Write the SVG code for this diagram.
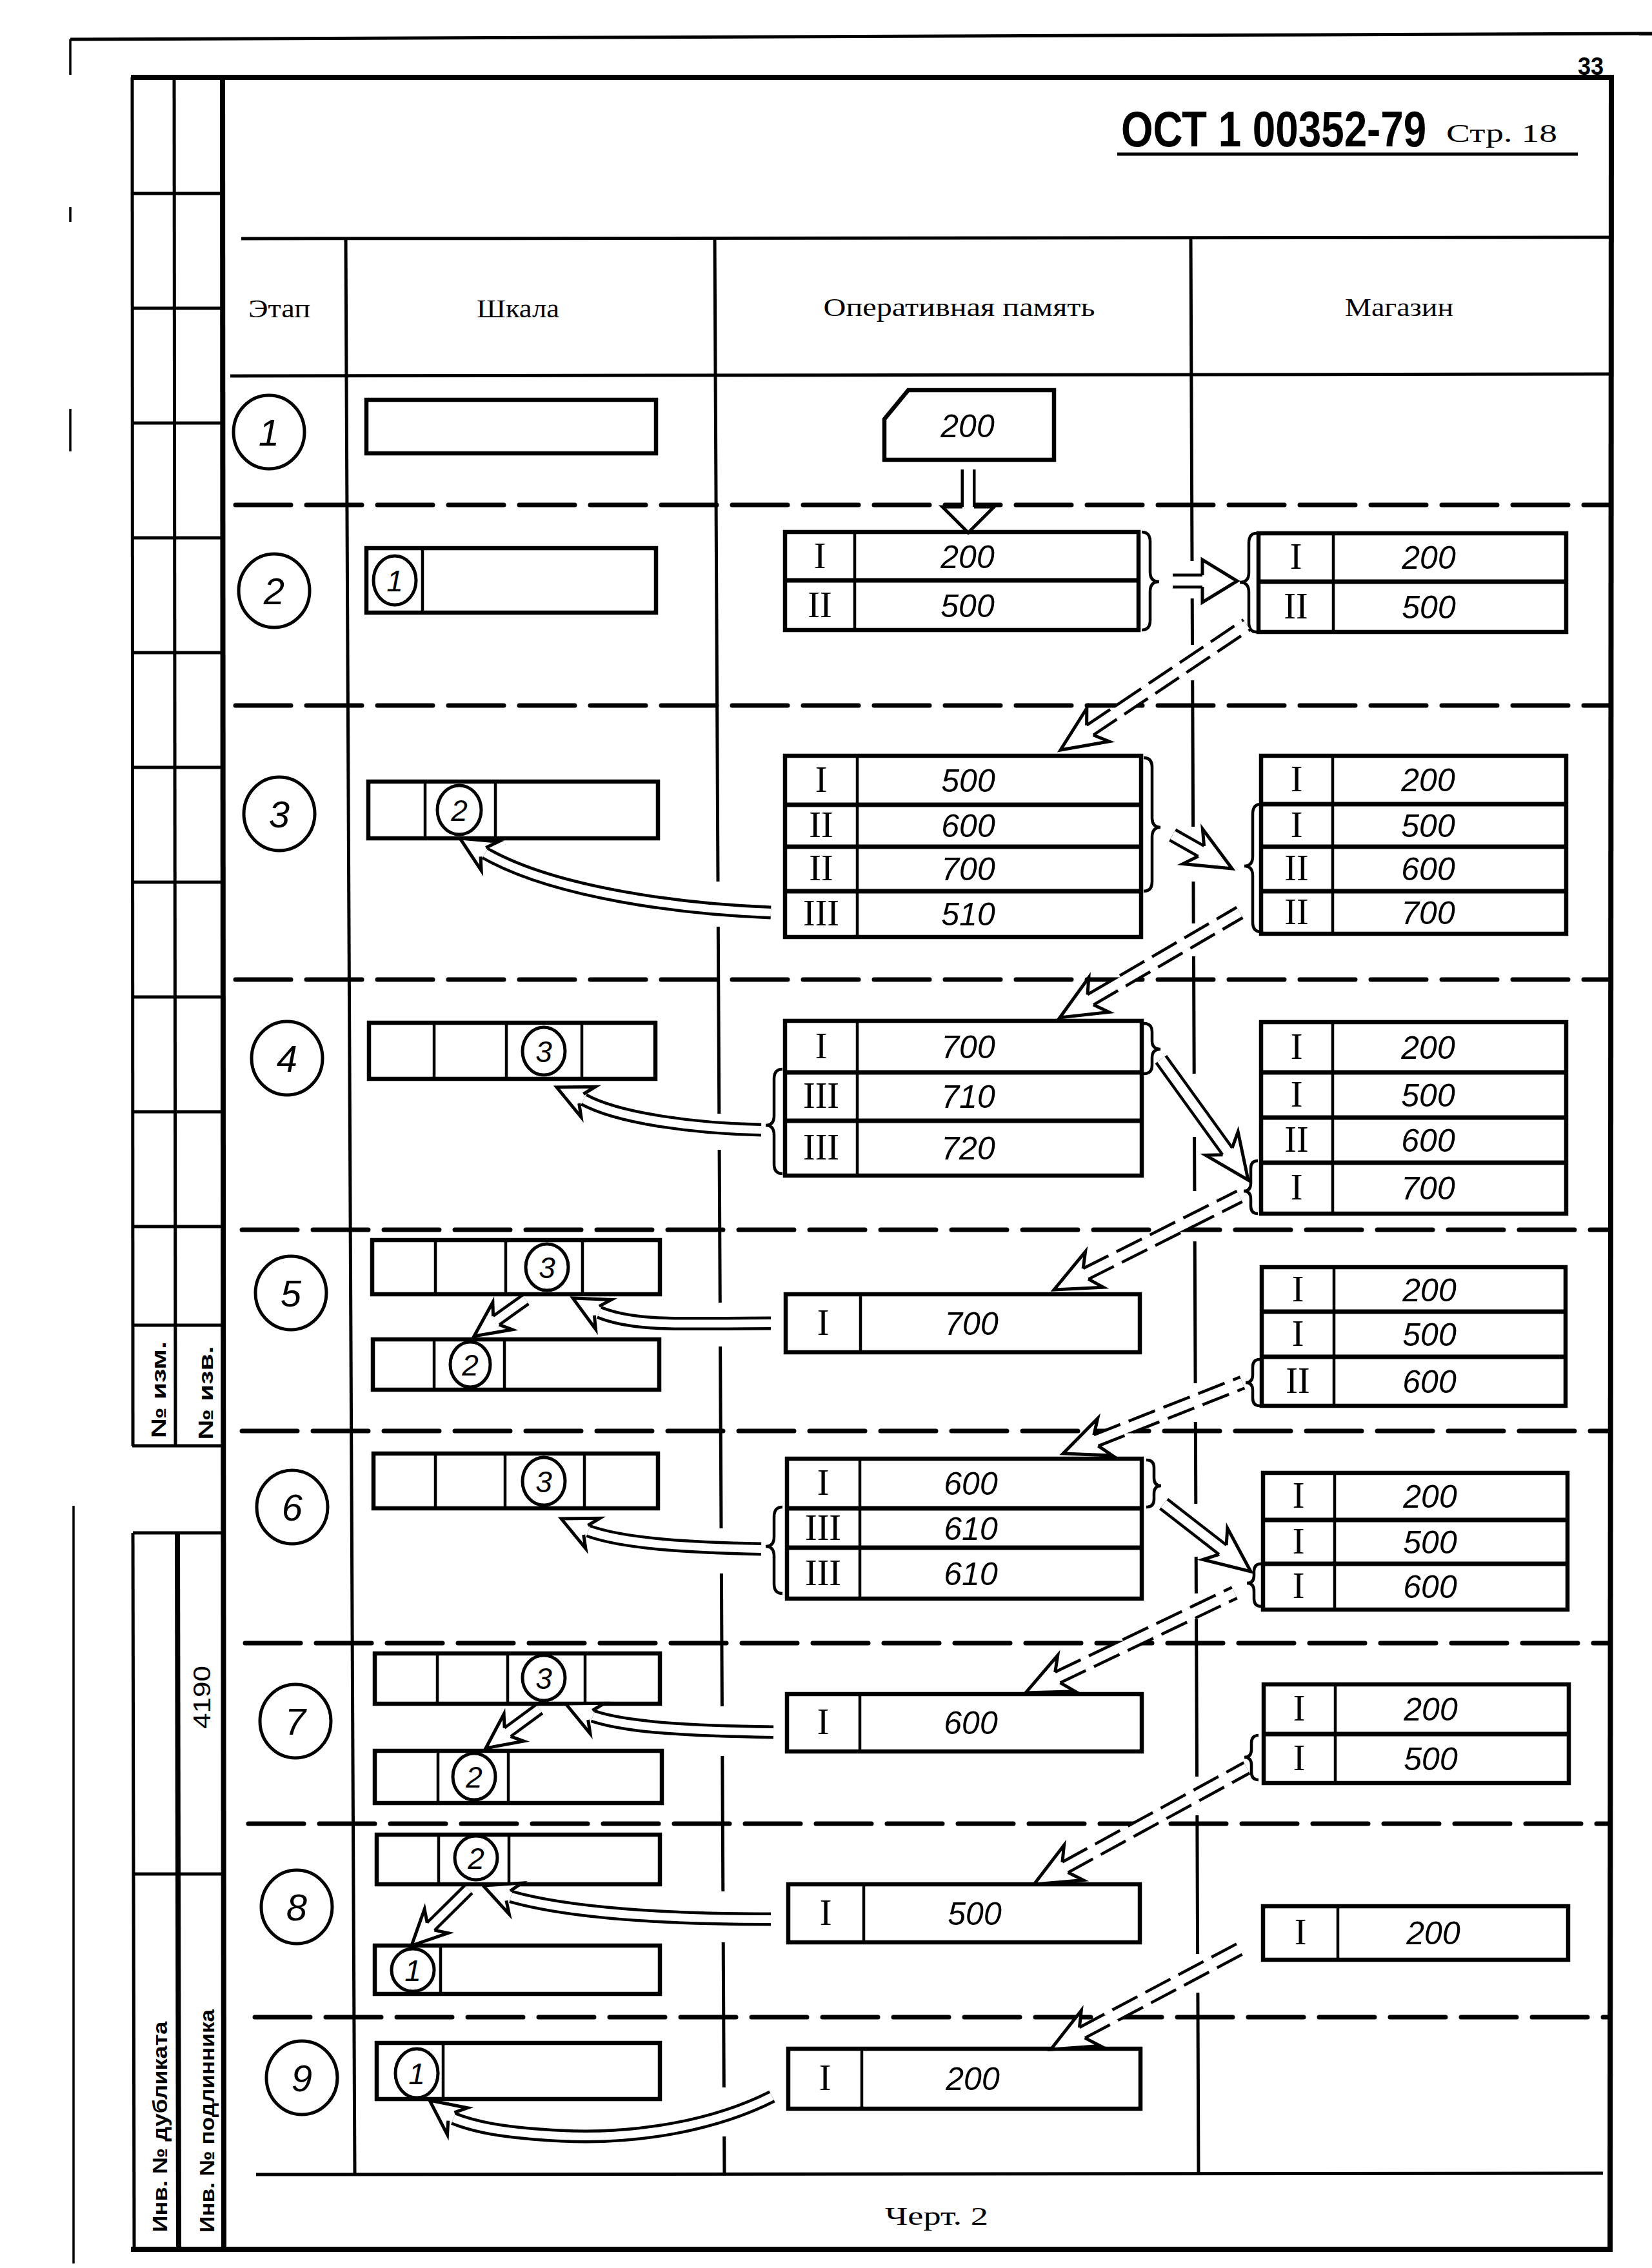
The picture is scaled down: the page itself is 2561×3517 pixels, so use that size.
<svg xmlns="http://www.w3.org/2000/svg" width="2561" height="3517" viewBox="0 0 2561 3517">
<defs>
<style>
.ln{fill:none;stroke:#000;stroke-width:5}
.thin{fill:none;stroke:#000;stroke-width:3.5}
.th{fill:none;stroke:#000;stroke-width:8}
.bx{fill:#fff;stroke:#000;stroke-width:6.5}
.dv{fill:none;stroke:#000;stroke-width:4.5}
.rd{fill:none;stroke:#000;stroke-width:7}
.dash{fill:none;stroke:#000;stroke-width:7;stroke-dasharray:86 24;stroke-linecap:round}
.sb{fill:none;stroke:#000;stroke-width:23}
.sw{fill:none;stroke:#fff;stroke-width:14}
.sbs{fill:none;stroke:#000;stroke-width:21}
.sws{fill:none;stroke:#fff;stroke-width:12}
.sd{stroke-dasharray:44 14}
.br{fill:none;stroke:#000;stroke-width:4.5}
.ci{fill:#fff;stroke:#000;stroke-width:5}
.v{font-family:"Liberation Sans",Arial,sans-serif;font-style:italic;font-size:50px;text-anchor:middle}
.r{font-family:"Liberation Serif","Times New Roman",serif;font-size:56px;text-anchor:middle}
.n{font-family:"Liberation Sans",Arial,sans-serif;font-style:italic;font-size:58px;text-anchor:middle}
.ns{font-family:"Liberation Sans",Arial,sans-serif;font-style:italic;font-size:46px;text-anchor:middle}
.h{font-family:"Liberation Serif","Times New Roman",serif;font-size:40px;text-anchor:middle}
.sl{font-family:"Liberation Sans",Arial,sans-serif;font-weight:bold;font-size:32px;text-anchor:middle}
.hw{fill:#fff;stroke:none}
.ho{fill:none;stroke:#000;stroke-width:5;stroke-linejoin:miter}
</style>
<g id="hL"><polygon class="hw" points="0,0 70,-31 55,-9 55,9 70,31"/><polyline class="ho" points="55,-9 70,-31 0,0 70,31 55,9"/></g>
<g id="hS"><polygon class="hw" points="0,0 54,-26 42,-8 42,8 54,26"/><polyline class="ho" points="42,-8 54,-26 0,0 54,26 42,8"/></g>
<g id="hH"><polygon class="hw" points="0,0 54,-33 54,33"/><polyline class="ho" points="54,-9 54,-33 0,0 54,33 54,9"/></g>
<g id="hV"><polygon class="hw" points="0,0 40,-40 40,40"/><polyline class="ho" points="40,-9 40,-40 0,0 40,40 40,9"/></g>
</defs>
<rect x="0" y="0" width="2561" height="3517" fill="#fff"/>

<g id="frame">
<line class="ln" x1="109" y1="61" x2="2561" y2="52"/>
<line class="thin" x1="109" y1="61" x2="109" y2="116"/>
<line class="thin" x1="109" y1="321" x2="109" y2="344"/>
<line class="thin" x1="109" y1="634" x2="109" y2="700"/>
<line class="thin" x1="114" y1="2335" x2="114" y2="3510"/>
<line class="th" x1="203" y1="120" x2="2500" y2="120"/>
<line class="th" x1="2498" y1="116" x2="2496" y2="3492"/>
<line class="th" x1="203" y1="3488" x2="2500" y2="3488"/>
<line class="th" x1="345" y1="120" x2="347" y2="3488"/>
<line class="ln" x1="205" y1="120" x2="206" y2="2242"/>
<line class="ln" x1="206" y1="2377" x2="208" y2="3488"/>
<line class="ln" x1="270" y1="120" x2="272" y2="2242"/>
<line class="th" x1="275" y1="2377" x2="277" y2="3488"/>
<g class="ln">
<line x1="205" y1="300" x2="345" y2="300"/>
<line x1="205" y1="478" x2="345" y2="478"/>
<line x1="205" y1="656" x2="345" y2="656"/>
<line x1="205" y1="834" x2="345" y2="834"/>
<line x1="205" y1="1012" x2="345" y2="1012"/>
<line x1="205" y1="1190" x2="345" y2="1190"/>
<line x1="205" y1="1368" x2="345" y2="1368"/>
<line x1="205" y1="1546" x2="345" y2="1546"/>
<line x1="205" y1="1724" x2="345" y2="1724"/>
<line x1="205" y1="1902" x2="345" y2="1902"/>
<line x1="205" y1="2055" x2="345" y2="2055"/>
<line x1="205" y1="2242" x2="345" y2="2242"/>
<line x1="206" y1="2377" x2="345" y2="2377"/>
<line x1="206" y1="2906" x2="345" y2="2906"/>
</g>
<text class="sl" transform="translate(257,2155) rotate(-90)" textLength="150" lengthAdjust="spacingAndGlyphs">№ изм.</text>
<text class="sl" transform="translate(330,2160) rotate(-90)" textLength="145" lengthAdjust="spacingAndGlyphs">№ изв.</text>
<text transform="translate(326,2632) rotate(-90)" font-family="Liberation Sans, Arial, sans-serif" font-size="36" text-anchor="middle" textLength="98" lengthAdjust="spacingAndGlyphs">4190</text>
<text class="sl" transform="translate(259,3298) rotate(-90)" textLength="327" lengthAdjust="spacingAndGlyphs">Инв. № дубликата</text>
<text class="sl" transform="translate(332,3289) rotate(-90)" textLength="346" lengthAdjust="spacingAndGlyphs">Инв. № подлинника</text>
<text transform="translate(2446,116) scale(0.95,1)" font-family="Liberation Sans, Arial, sans-serif" font-weight="bold" font-size="38">33</text>
<text transform="translate(1738,227) scale(0.828,1)" font-family="Liberation Sans, Arial, sans-serif" font-weight="bold" font-size="77">ОСТ 1 00352-79</text>
<text x="2242" y="220" font-family="Liberation Serif, Times New Roman, serif" font-size="40" textLength="172" lengthAdjust="spacingAndGlyphs">Стр. 18</text>
<line class="ln" x1="1732" y1="239" x2="2446" y2="239"/>
</g>

<g id="table-grid">
<line class="ln" x1="374" y1="370" x2="2498" y2="368" stroke-width="6"/>
<line class="ln" x1="357" y1="583" x2="2498" y2="580" stroke-width="6"/>
<line class="ln" x1="397" y1="3372" x2="2485" y2="3370" stroke-width="6.5"/>
<line class="ln" x1="536" y1="370" x2="550" y2="3372"/>
<path class="ln" d="M1108,370L1113,1367M1113.3,1437L1114.8,1727M1115.1,1783L1116.3,2020M1116.6,2088L1118,2370M1118.4,2440L1119.4,2646M1119.8,2723L1120.8,2933M1121.2,3012L1122.3,3237M1122.7,3313L1123,3372"/>
<path class="ln" d="M1846,370L1848,870M1848.2,928L1848.5,1000M1848.7,1055L1849.6,1282M1850,1367L1850.2,1432M1850.5,1483L1851.2,1665M1851.6,1763L1851.9,1847M1852.2,1925L1853.1,2145M1853.3,2205L1853.8,2332M1854.2,2414L1854.4,2471M1854.6,2511L1855.5,2755M1855.8,2815L1856.6,3030M1856.9,3090L1858,3372"/>
<text class="h" x="433" y="492" textLength="96" lengthAdjust="spacingAndGlyphs">Этап</text>
<text class="h" x="803" y="492" textLength="128" lengthAdjust="spacingAndGlyphs">Шкала</text>
<text class="h" x="1487" y="490" textLength="421" lengthAdjust="spacingAndGlyphs">Оперативная память</text>
<text class="h" x="2169" y="490" textLength="168" lengthAdjust="spacingAndGlyphs">Магазин</text>
<text class="h" x="1452" y="3450" textLength="160" lengthAdjust="spacingAndGlyphs">Черт. 2</text>
<g class="dash">
<line x1="365" y1="783" x2="2496" y2="783"/>
<line x1="365" y1="1094" x2="2496" y2="1094"/>
<line x1="365" y1="1519" x2="2496" y2="1519"/>
<line x1="375" y1="1907" x2="2496" y2="1907"/>
<line x1="375" y1="2219" x2="2496" y2="2219"/>
<line x1="380" y1="2548" x2="2496" y2="2548"/>
<line x1="385" y1="2828" x2="2496" y2="2828"/>
<line x1="395" y1="3128" x2="2496" y2="3128"/>
</g>
</g>

<g id="stages">
<g id="stage1"><ellipse class="ci" cx="417" cy="670" rx="55" ry="57"/><text class="n" x="417" y="691">1</text></g>
<g id="stage2"><ellipse class="ci" cx="425" cy="916" rx="55" ry="57"/><text class="n" x="425" y="937">2</text></g>
<g id="stage3"><ellipse class="ci" cx="433" cy="1262" rx="55" ry="57"/><text class="n" x="433" y="1283">3</text></g>
<g id="stage4"><ellipse class="ci" cx="445" cy="1641" rx="55" ry="57"/><text class="n" x="445" y="1662">4</text></g>
<g id="stage5"><ellipse class="ci" cx="451" cy="2005" rx="55" ry="57"/><text class="n" x="451" y="2026">5</text></g>
<g id="stage6"><ellipse class="ci" cx="453" cy="2337" rx="55" ry="57"/><text class="n" x="453" y="2358">6</text></g>
<g id="stage7"><ellipse class="ci" cx="458" cy="2669" rx="55" ry="57"/><text class="n" x="458" y="2690">7</text></g>
<g id="stage8"><ellipse class="ci" cx="460" cy="2957" rx="55" ry="57"/><text class="n" x="460" y="2978">8</text></g>
<g id="stage9"><ellipse class="ci" cx="468" cy="3222" rx="55" ry="57"/><text class="n" x="468" y="3243">9</text></g>
</g>

<g id="scale">
<g id="sc1"><rect class="bx" x="568" y="620" width="449" height="83"/></g>
<g id="sc2"><rect class="bx" x="568" y="850" width="449" height="100"/><line class="dv" x1="655" y1="850" x2="655" y2="950"/><ellipse class="ci" cx="612" cy="900" rx="33" ry="38"/><text class="ns" x="612" y="917">1</text></g>
<g id="sc3"><rect class="bx" x="571" y="1212" width="449" height="88"/><line class="dv" x1="659" y1="1212" x2="659" y2="1300"/><line class="dv" x1="768" y1="1212" x2="768" y2="1300"/><ellipse class="ci" cx="712" cy="1256" rx="34" ry="38"/><text class="ns" x="712" y="1273">2</text></g>
<g id="sc4"><rect class="bx" x="572" y="1586" width="444" height="87"/><line class="dv" x1="673" y1="1586" x2="673" y2="1673"/><line class="dv" x1="785" y1="1586" x2="785" y2="1673"/><line class="dv" x1="902" y1="1586" x2="902" y2="1673"/><ellipse class="ci" cx="843" cy="1630" rx="33" ry="37"/><text class="ns" x="843" y="1647">3</text></g>
<g id="sc5a"><rect class="bx" x="577" y="1923" width="446" height="84"/><line class="dv" x1="675" y1="1923" x2="675" y2="2007"/><line class="dv" x1="784" y1="1923" x2="784" y2="2007"/><line class="dv" x1="903" y1="1923" x2="903" y2="2007"/><ellipse class="ci" cx="848" cy="1965" rx="33" ry="36"/><text class="ns" x="848" y="1982">3</text></g>
<g id="sc5b"><rect class="bx" x="578" y="2077" width="444" height="78"/><line class="dv" x1="673" y1="2077" x2="673" y2="2155"/><line class="dv" x1="782" y1="2077" x2="782" y2="2155"/><ellipse class="ci" cx="729" cy="2116" rx="31" ry="35"/><text class="ns" x="729" y="2133">2</text></g>
<g id="sc6"><rect class="bx" x="579" y="2254" width="441" height="85"/><line class="dv" x1="675" y1="2254" x2="675" y2="2339"/><line class="dv" x1="783" y1="2254" x2="783" y2="2339"/><line class="dv" x1="906" y1="2254" x2="906" y2="2339"/><ellipse class="ci" cx="843" cy="2297" rx="33" ry="37"/><text class="ns" x="843" y="2314">3</text></g>
<g id="sc7a"><rect class="bx" x="581" y="2564" width="442" height="78"/><line class="dv" x1="678" y1="2564" x2="678" y2="2642"/><line class="dv" x1="787" y1="2564" x2="787" y2="2642"/><line class="dv" x1="907" y1="2564" x2="907" y2="2642"/><ellipse class="ci" cx="843" cy="2602" rx="33" ry="35"/><text class="ns" x="843" y="2619">3</text></g>
<g id="sc7b"><rect class="bx" x="581" y="2715" width="445" height="81"/><line class="dv" x1="679" y1="2715" x2="679" y2="2796"/><line class="dv" x1="788" y1="2715" x2="788" y2="2796"/><ellipse class="ci" cx="735" cy="2755" rx="33" ry="36"/><text class="ns" x="735" y="2772">2</text></g>
<g id="sc8a"><rect class="bx" x="584" y="2845" width="439" height="77"/><line class="dv" x1="680" y1="2845" x2="680" y2="2922"/><line class="dv" x1="789" y1="2845" x2="789" y2="2922"/><ellipse class="ci" cx="738" cy="2881" rx="33" ry="34"/><text class="ns" x="738" y="2898">2</text></g>
<g id="sc8b"><rect class="bx" x="581" y="3017" width="442" height="75"/><line class="dv" x1="683" y1="3017" x2="683" y2="3092"/><ellipse class="ci" cx="640" cy="3055" rx="33" ry="33"/><text class="ns" x="640" y="3072">1</text></g>
<g id="sc9"><rect class="bx" x="584" y="3168" width="439" height="87"/><line class="dv" x1="687" y1="3168" x2="687" y2="3255"/><ellipse class="ci" cx="646" cy="3215" rx="33" ry="38"/><text class="ns" x="646" y="3232">1</text></g>
</g>

<g id="memory">
<g id="op1"><polygon class="bx" points="1408,605 1634,605 1634,713 1371,713 1371,650"/><text class="v" x="1500" y="678">200</text></g>
<g id="op2"><rect class="bx" x="1217" y="825" width="548" height="152"/><line class="dv" x1="1325" y1="825" x2="1325" y2="977"/><line class="rd" x1="1217" y1="900" x2="1765" y2="900"/>
<text class="r" x="1271" y="881">I</text><text class="v" x="1500" y="881">200</text><text class="r" x="1271" y="957">II</text><text class="v" x="1500" y="957">500</text></g>
<g id="op3"><rect class="bx" x="1217" y="1172" width="552" height="281"/><line class="dv" x1="1329" y1="1172" x2="1329" y2="1453"/><line class="rd" x1="1217" y1="1248" x2="1769" y2="1248"/><line class="rd" x1="1217" y1="1313" x2="1769" y2="1313"/><line class="rd" x1="1217" y1="1382" x2="1769" y2="1382"/>
<text class="r" x="1273" y="1228">I</text><text class="v" x="1501" y="1228">500</text><text class="r" x="1273" y="1298">II</text><text class="v" x="1501" y="1298">600</text><text class="r" x="1273" y="1365">II</text><text class="v" x="1501" y="1365">700</text><text class="r" x="1273" y="1435">III</text><text class="v" x="1501" y="1435">510</text></g>
<g id="op4"><rect class="bx" x="1217" y="1583" width="553" height="240"/><line class="dv" x1="1329" y1="1583" x2="1329" y2="1823"/><line class="rd" x1="1217" y1="1663" x2="1770" y2="1663"/><line class="rd" x1="1217" y1="1738" x2="1770" y2="1738"/>
<text class="r" x="1273" y="1641">I</text><text class="v" x="1501" y="1641">700</text><text class="r" x="1273" y="1718">III</text><text class="v" x="1501" y="1718">710</text><text class="r" x="1273" y="1798">III</text><text class="v" x="1501" y="1798">720</text></g>
<g id="op5"><rect class="bx" x="1218" y="2007" width="549" height="90"/><line class="dv" x1="1334" y1="2007" x2="1334" y2="2097"/>
<text class="r" x="1276" y="2070">I</text><text class="v" x="1506" y="2070">700</text></g>
<g id="op6"><rect class="bx" x="1220" y="2262" width="550" height="217"/><line class="dv" x1="1333" y1="2262" x2="1333" y2="2479"/><line class="rd" x1="1220" y1="2339" x2="1770" y2="2339"/><line class="rd" x1="1220" y1="2400" x2="1770" y2="2400"/>
<text class="r" x="1276" y="2318">I</text><text class="v" x="1505" y="2318">600</text><text class="r" x="1276" y="2388">III</text><text class="v" x="1505" y="2388">610</text><text class="r" x="1276" y="2458">III</text><text class="v" x="1505" y="2458">610</text></g>
<g id="op7"><rect class="bx" x="1220" y="2627" width="550" height="89"/><line class="dv" x1="1333" y1="2627" x2="1333" y2="2716"/>
<text class="r" x="1276" y="2689">I</text><text class="v" x="1505" y="2689">600</text></g>
<g id="op8"><rect class="bx" x="1222" y="2922" width="545" height="90"/><line class="dv" x1="1339" y1="2922" x2="1339" y2="3012"/>
<text class="r" x="1280" y="2985">I</text><text class="v" x="1511" y="2985">500</text></g>
<g id="op9"><rect class="bx" x="1222" y="3177" width="546" height="93"/><line class="dv" x1="1336" y1="3177" x2="1336" y2="3270"/>
<text class="r" x="1279" y="3241">I</text><text class="v" x="1508" y="3241">200</text></g>
</g>

<g id="store">
<g id="mg2"><rect class="bx" x="1951" y="827" width="477" height="153"/><line class="dv" x1="2067" y1="827" x2="2067" y2="980"/><line class="rd" x1="1951" y1="902" x2="2428" y2="902"/>
<text class="r" x="2009" y="882">I</text><text class="v" x="2215" y="882">200</text><text class="r" x="2009" y="959">II</text><text class="v" x="2215" y="959">500</text></g>
<g id="mg3"><rect class="bx" x="1955" y="1172" width="473" height="276"/><line class="dv" x1="2066" y1="1172" x2="2066" y2="1448"/><line class="rd" x1="1955" y1="1247" x2="2428" y2="1247"/><line class="rd" x1="1955" y1="1313" x2="2428" y2="1313"/><line class="rd" x1="1955" y1="1382" x2="2428" y2="1382"/>
<text class="r" x="2010" y="1227">I</text><text class="v" x="2214" y="1227">200</text><text class="r" x="2010" y="1298">I</text><text class="v" x="2214" y="1298">500</text><text class="r" x="2010" y="1365">II</text><text class="v" x="2214" y="1365">600</text><text class="r" x="2010" y="1433">II</text><text class="v" x="2214" y="1433">700</text></g>
<g id="mg4"><rect class="bx" x="1955" y="1585" width="473" height="297"/><line class="dv" x1="2066" y1="1585" x2="2066" y2="1882"/><line class="rd" x1="1955" y1="1663" x2="2428" y2="1663"/><line class="rd" x1="1955" y1="1733" x2="2428" y2="1733"/><line class="rd" x1="1955" y1="1803" x2="2428" y2="1803"/>
<text class="r" x="2010" y="1642">I</text><text class="v" x="2214" y="1642">200</text><text class="r" x="2010" y="1716">I</text><text class="v" x="2214" y="1716">500</text><text class="r" x="2010" y="1786">II</text><text class="v" x="2214" y="1786">600</text><text class="r" x="2010" y="1860">I</text><text class="v" x="2214" y="1860">700</text></g>
<g id="mg5"><rect class="bx" x="1956" y="1965" width="471" height="215"/><line class="dv" x1="2068" y1="1965" x2="2068" y2="2180"/><line class="rd" x1="1956" y1="2034" x2="2427" y2="2034"/><line class="rd" x1="1956" y1="2104" x2="2427" y2="2104"/>
<text class="r" x="2012" y="2018">I</text><text class="v" x="2216" y="2018">200</text><text class="r" x="2012" y="2087">I</text><text class="v" x="2216" y="2087">500</text><text class="r" x="2012" y="2160">II</text><text class="v" x="2216" y="2160">600</text></g>
<g id="mg6"><rect class="bx" x="1958" y="2284" width="472" height="212"/><line class="dv" x1="2069" y1="2284" x2="2069" y2="2496"/><line class="rd" x1="1958" y1="2357" x2="2430" y2="2357"/><line class="rd" x1="1958" y1="2425" x2="2430" y2="2425"/>
<text class="r" x="2013" y="2338">I</text><text class="v" x="2217" y="2338">200</text><text class="r" x="2013" y="2409">I</text><text class="v" x="2217" y="2409">500</text><text class="r" x="2013" y="2478">I</text><text class="v" x="2217" y="2478">600</text></g>
<g id="mg7"><rect class="bx" x="1959" y="2612" width="473" height="153"/><line class="dv" x1="2070" y1="2612" x2="2070" y2="2765"/><line class="rd" x1="1959" y1="2689" x2="2432" y2="2689"/>
<text class="r" x="2014" y="2668">I</text><text class="v" x="2218" y="2668">200</text><text class="r" x="2014" y="2745">I</text><text class="v" x="2218" y="2745">500</text></g>
<g id="mg8"><rect class="bx" x="1958" y="2956" width="473" height="83"/><line class="dv" x1="2074" y1="2956" x2="2074" y2="3039"/>
<text class="r" x="2016" y="3015">I</text><text class="v" x="2222" y="3015">200</text></g>
</g>

<g id="braces" class="br">
<path d="M1770,825Q1783,825 1783,840V887Q1783,902 1797,902Q1783,902 1783,917V962Q1783,977 1770,977"/>
<path d="M1948,827Q1936,827 1936,842V888Q1936,903 1922,903Q1936,903 1936,918V965Q1936,980 1948,980"/>
<path d="M1773,1175Q1786,1175 1786,1190V1268Q1786,1283 1799,1283Q1786,1283 1786,1298V1367Q1786,1382 1773,1382"/>
<path d="M1955,1247Q1942,1247 1942,1262V1328Q1942,1343 1929,1343Q1942,1343 1942,1358V1430Q1942,1445 1955,1445"/>
<path d="M1773,1587Q1786,1587 1786,1600V1614Q1786,1627 1799,1627Q1786,1627 1786,1640V1652Q1786,1665 1773,1665"/>
<path d="M1213,1658Q1200,1658 1200,1673V1730Q1200,1745 1187,1745Q1200,1745 1200,1760V1805Q1200,1820 1213,1820"/>
<path d="M1950,1800Q1939,1800 1939,1812V1835Q1939,1847 1928,1847Q1939,1847 1939,1859V1870Q1939,1882 1950,1882"/>
<path d="M1953,2108Q1942,2108 1942,2120V2132Q1942,2144 1931,2144Q1942,2144 1942,2156V2168Q1942,2180 1953,2180"/>
<path d="M1777,2264Q1789,2264 1789,2276V2292Q1789,2304 1800,2304Q1789,2304 1789,2316V2325Q1789,2337 1777,2337"/>
<path d="M1213,2337Q1200,2337 1200,2352V2383Q1200,2398 1187,2398Q1200,2398 1200,2413V2456Q1200,2471 1213,2471"/>
<path d="M1955,2425Q1944,2425 1944,2437V2443Q1944,2455 1933,2455Q1944,2455 1944,2467V2479Q1944,2491 1955,2491"/>
<path d="M1951,2691Q1940,2691 1940,2703V2713Q1940,2725 1929,2725Q1940,2725 1940,2737V2748Q1940,2760 1951,2760"/>
</g>

<g id="connectors">
<g transform="translate(1501,826) rotate(-90)"><path class="sb" d="M40,0H98"/><path class="sw" d="M38,0H98"/><use href="#hV"/></g>
<g transform="translate(1918,901) rotate(180)"><path class="sb" d="M54,0H100"/><path class="sw" d="M50,0H100"/><use href="#hH"/></g>
<g transform="translate(1644,1163) rotate(-33.9)"><path class="sb sd" d="M55,0H348"/><path class="sw" d="M52,0H348"/><use href="#hL"/></g>
<g transform="translate(1910,1347) rotate(-150.5)"><path class="sb" d="M55,0H106"/><path class="sw" d="M52,0H106"/><use href="#hL"/></g>
<g transform="translate(1643,1578) rotate(-30.3)"><path class="sb sd" d="M55,0H323"/><path class="sw" d="M52,0H323"/><use href="#hL"/></g>
<g transform="translate(1935,1830) rotate(-125.8)"><path class="sb" d="M55,0H231"/><path class="sw" d="M52,0H231"/><use href="#hL"/></g>
<g transform="translate(1634,2000) rotate(-26.7)"><path class="sb sd" d="M55,0H322"/><path class="sw" d="M52,0H322"/><use href="#hL"/></g>
<g transform="translate(1648,2254) rotate(-21.6)"><path class="sb sd" d="M55,0H299"/><path class="sw" d="M52,0H299"/><use href="#hL"/></g>
<g transform="translate(1939,2437) rotate(-142.1)"><path class="sb" d="M55,0H171"/><path class="sw" d="M52,0H171"/><use href="#hL"/></g>
<g transform="translate(1590,2625) rotate(-25.6)"><path class="sb sd" d="M55,0H359"/><path class="sw" d="M52,0H359"/><use href="#hL"/></g>
<g transform="translate(1603,2922) rotate(-28.7)"><path class="sb sd" d="M55,0H376"/><path class="sw" d="M52,0H376"/><use href="#hL"/></g>
<g transform="translate(1629,3178) rotate(-28)"><path class="sb sd" d="M55,0H344"/><path class="sw" d="M52,0H344"/><use href="#hL"/></g>
<g transform="translate(735,2072) rotate(-35.5)"><path class="sbs" d="M42,0H98"/><path class="sws" d="M40,0H98"/><use href="#hS"/></g>
<g transform="translate(753,2711) rotate(-36.3)"><path class="sbs" d="M42,0H103"/><path class="sws" d="M40,0H103"/><use href="#hS"/></g>
<g transform="translate(638,3017) rotate(-44.7)"><path class="sbs" d="M42,0H124"/><path class="sws" d="M40,0H124"/><use href="#hS"/></g>
<g><path class="sbs" d="M1195,1415C1060,1410 860,1385 752,1323"/><path class="sws" d="M1195,1415C1060,1410 860,1385 752,1323"/><use href="#hS" transform="translate(713,1300) rotate(30.7)"/></g>
<g><path class="sbs" d="M1180,1752C1080,1750 960,1735 905,1705"/><path class="sws" d="M1180,1752C1080,1750 960,1735 905,1705"/><use href="#hS" transform="translate(863,1686) rotate(25)"/></g>
<g><path class="sbs" d="M1195,2052C1060,2052 985,2058 929,2035"/><path class="sws" d="M1195,2052C1060,2052 985,2058 929,2035"/><use href="#hS" transform="translate(888,2013) rotate(28)"/></g>
<g><path class="sbs" d="M1180,2402C1080,2400 970,2395 912,2374"/><path class="sws" d="M1180,2402C1080,2400 970,2395 912,2374"/><use href="#hS" transform="translate(870,2355) rotate(25)"/></g>
<g><path class="sbs" d="M1199,2686C1080,2684 975,2680 919,2661"/><path class="sws" d="M1199,2686C1080,2684 975,2680 919,2661"/><use href="#hS" transform="translate(877,2642) rotate(25)"/></g>
<g><path class="sbs" d="M1195,2976C1030,2976 880,2966 792,2941"/><path class="sws" d="M1195,2976C1030,2976 880,2966 792,2941"/><use href="#hS" transform="translate(749,2924) rotate(22)"/></g>
<g><path class="sbs" d="M1197,3251C1110,3295 990,3318 870,3312C790,3308 740,3300 703,3285"/><path class="sws" d="M1197,3251C1110,3295 990,3318 870,3312C790,3308 740,3300 703,3285"/><use href="#hS" transform="translate(666,3257) rotate(37)"/></g>
</g>
</svg>
